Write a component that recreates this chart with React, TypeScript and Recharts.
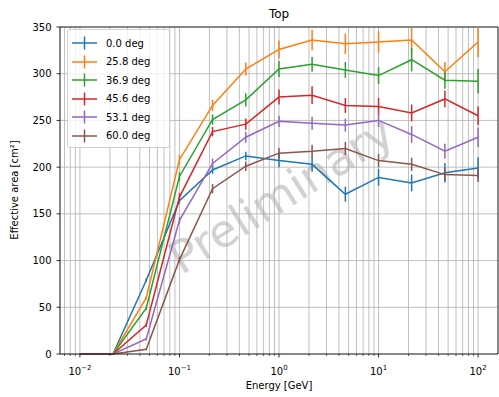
import { LineChart, Line, XAxis, YAxis, CartesianGrid, ErrorBar, ReferenceLine } from "recharts";

// energy bins [GeV], log spaced, 3 per decade
const energies = [0.01, 0.0215, 0.0464, 0.1, 0.215, 0.464, 1, 2.15, 4.64, 10, 21.5, 46.4, 100];

const labels = ["0.0 deg", "25.8 deg", "36.9 deg", "45.6 deg", "53.1 deg", "60.0 deg"];
const colors = ["#1f77b4", "#ff7f0e", "#2ca02c", "#d62728", "#9467bd", "#8c564b"];

// effective area [cm2] and errors
const area00 = [0, 0, 79, 164, 197, 212, 207, 203, 171, 189, 183, 194, 199];
const err00 = [0, 0, 2, 3, 4, 4.5, 7, 8, 8, 9, 9, 10.5, 11.5];
const area26 = [0, 0, 60, 208, 266, 305, 326, 336, 332, 334, 336, 302, 334];
const err26 = [0, 0, 2, 5, 6, 7, 9.5, 11, 11, 11.5, 13, 10.5, 16];
const area37 = [0, 0, 49, 190, 251, 272, 305, 310, 304, 298, 315, 293, 292];
const err37 = [0, 0, 2, 4.5, 5.5, 7, 8.5, 8, 8.5, 9, 12.5, 9, 13];
const area46 = [0, 0, 31, 168, 238, 246, 275, 277, 266, 265, 258, 273, 255];
const err46 = [0, 0, 2, 4, 5, 6, 8, 9.5, 8, 9, 9, 9, 10];
const area53 = [0, 0, 16, 143, 204, 232, 249, 247, 245, 250, 235, 217, 232];
const err53 = [0, 0, 1.5, 3.5, 5, 6, 6, 7, 7, 7, 9, 8, 10.5];
const area60 = [0, 0, 5, 101, 177, 201, 215, 217, 220, 207, 203, 192, 191];
const err60 = [0, 0, 1, 3, 5, 5, 5.5, 7, 7, 7, 7, 7, 7];

const areas = [area00, area26, area37, area46, area53, area60];
const errors = [err00, err26, err37, err46, err53, err60];

const yTicks = [0, 50, 100, 150, 200, 250, 300, 350];
const xMin = Math.pow(10, -2.2);
const xMax = Math.pow(10, 2.2);

const xTicks: number[] = [];
for (let d = -3; d <= 2; d++) {
  for (let k = 1; k <= 9; k++) {
    const v = Number((k * Math.pow(10, d)).toPrecision(6));
    if (v >= xMin && v <= xMax) xTicks.push(v);
  }
}

const data = energies.map((e, i) => {
  const row: any = { e };
  areas.forEach((a, s) => {
    row["a" + s] = a[i];
    row["err" + s] = errors[s][i];
  });
  return row;
});

function EnergyTick(props: any) {
  const { x, y, payload } = props;
  const lg = Math.log10(payload.value);
  const exp = Math.round(lg);
  const major = Math.abs(lg - exp) < 1e-6;
  return (
    <g>
      <line x1={x} x2={x} y1={y} y2={y + (major ? 3.5 : 2)} stroke="#000" strokeWidth={major ? 0.8 : 0.6} />
      {major && (
        <text x={x} y={y + 21} textAnchor="middle" fontSize={10} fill="#000">
          10<tspan dy={-5.5} fontSize={7}>{exp < 0 ? "\u2212" + -exp : String(exp)}</tspan>
        </text>
      )}
    </g>
  );
}

const font = "'DejaVu Sans', sans-serif";

export default function App() {
  return (
    <div style={{ position: "absolute", left: 0, top: 0, width: 499, height: 397, fontFamily: font, background: "#fff" }}>
      <div
        style={{
          position: "absolute",
          left: 281,
          top: 195,
          transform: "translate(-50%, -50%) rotate(-32deg)",
          fontSize: 45,
          color: "#d2d2d2",
          whiteSpace: "nowrap",
          lineHeight: 1,
        }}
      >
        Preliminary
      </div>
      <div style={{ position: "absolute", left: 0, top: 0 }}>
        <LineChart width={499} height={397} data={data} margin={{ top: 27, right: 1, left: 0, bottom: 0 }}>
          <CartesianGrid stroke="#b0b0b0" strokeWidth={0.8} />
          <XAxis
            dataKey="e"
            type="number"
            scale="log"
            domain={[xMin, xMax]}
            allowDataOverflow
            ticks={xTicks}
            interval={0}
            height={43}
            tickSize={0}
            tickMargin={0}
            tickLine={false}
            tick={<EnergyTick />}
            axisLine={{ stroke: "#000", strokeWidth: 0.8 }}
          />
          <YAxis
            type="number"
            domain={[0, 350]}
            ticks={yTicks}
            interval={0}
            width={60}
            tickSize={3.5}
            tickMargin={5}
            tick={{ fontSize: 10, fill: "#000" }}
            tickLine={{ stroke: "#000", strokeWidth: 0.8 }}
            axisLine={{ stroke: "#000", strokeWidth: 0.8 }}
          />
          <ReferenceLine y={350} stroke="#000" strokeWidth={0.8} />
          <ReferenceLine x={xMax} stroke="#000" strokeWidth={0.8} />
          {labels.map((l, s) => (
            <Line
              key={l}
              dataKey={"a" + s}
              name={l}
              stroke={colors[s]}
              strokeWidth={1.5}
              dot={false}
              activeDot={false}
              isAnimationActive={false}
            >
              <ErrorBar dataKey={"err" + s} width={0} stroke={colors[s]} strokeWidth={1.5} direction="y" isAnimationActive={false} />
            </Line>
          ))}
        </LineChart>
      </div>
      <div style={{ position: "absolute", left: 279, top: 14, transform: "translate(-50%, -50%)", fontSize: 12, lineHeight: 1, whiteSpace: "nowrap" }}>
        Top
      </div>
      <div style={{ position: "absolute", left: 279, top: 386, transform: "translate(-50%, -50%)", fontSize: 10, lineHeight: 1, whiteSpace: "nowrap" }}>
        Energy [GeV]
      </div>
      <div
        style={{
          position: "absolute",
          left: 15,
          top: 190,
          transform: "translate(-50%, -50%) rotate(-90deg)",
          fontSize: 10,
          lineHeight: 1,
          whiteSpace: "nowrap",
        }}
      >
        Effective area [cm²]
      </div>
      <div
        style={{
          position: "absolute",
          left: 67,
          top: 29,
          width: 97,
          padding: "4px 0 2px 4px",
          border: "1px solid #d0d0d0",
          borderRadius: 3,
          background: "rgba(255,255,255,0.8)",
          fontSize: 10,
        }}
      >
        {labels.map((l, s) => (
          <div key={l} style={{ display: "flex", alignItems: "center", height: 18.5 }}>
            <svg width={30} height={18} style={{ display: "block" }}>
              <line x1={0} x2={25} y1={9} y2={9} stroke={colors[s]} strokeWidth={1.5} />
              <line x1={12.5} x2={12.5} y1={2.5} y2={15.5} stroke={colors[s]} strokeWidth={1.5} />
            </svg>
            <span style={{ marginLeft: 4, whiteSpace: "nowrap" }}>{l}</span>
          </div>
        ))}
      </div>
    </div>
  );
}
